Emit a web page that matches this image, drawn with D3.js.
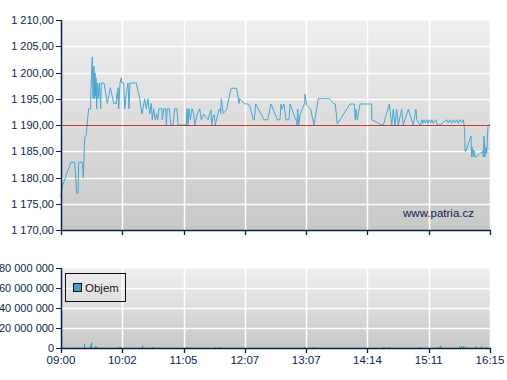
<!DOCTYPE html>
<html><head><meta charset="utf-8">
<script src="https://cdn.jsdelivr.net/npm/d3@7"></script>
<style>
html,body{margin:0;padding:0;background:#fff;}
svg{display:block;font-family:"Liberation Sans",Arial,sans-serif;}
</style></head>
<body>
<svg id="c" width="507" height="380"></svg>
<script>
// ---- data ----
const timeLabels = ["09:00","10:02","11:05","12:07","13:07","14:14","15:11","16:15"];
const priceTicks = [1170,1175,1180,1185,1190,1195,1200,1205,1210];
const volumeTicks = [0,20000000,40000000,60000000,80000000];
const referencePrice = 1190;
// session position (0..429) and price
const pricePos = [0,1,4.3,6.3,8.7,9.7,13.7,15.7,17,17.7,21.3,22.3,23.3,23.7,25.3,26,27.7,29.7,29.7,31,31.3,32,33,33.7,34,34.7,35,35.7,36.3,37.3,38.3,39.7,40.3,43,44.7,46.3,49.3,52.7,55.3,56.3,56,57,57.7,59,60.3,61,62.7,63.7,65.3,67,68,69,75.3,78.7,81,83.7,85.3,87,88.7,90.3,91.3,92.7,94.3,95.7,96.7,98,101,101.2,103,104.7,105.3,106.3,108.3,109.7,112,113.7,116,117,125.3,126,127,128,129.3,131,132.7,133.7,136.3,138.7,140.3,142.7,147,
 150,150.7,152.3,153.3,154.3,158,159.3,159.7,160.3,162.3,165.7,170,175.7,177.3,178,178.7,184,187.3,189,189.7,192.3,193.3,194.7,203,206.7,210,216.3,219,220,221,223,225,228,229,234.7,235.7,236,236.7,237.7,239,241.3,243.3,243.7,244,245.7,249.7,253,257.3,268.3,273.3,274.3,276.3,289,
 291.7,293.3,294.3,295,296.3,299,310.7,310.8,321.3,322.3,328.3,330.7,332.3,334,335.7,337.3,340.7,342.3,347.3,352.3,355,355.7,359,359.7,360.7,361.7,363,364.3,365.7,367,368.3,369.7,371,372.3,373.7,375,376.3,379,385.7,387.3,389,390.7,392.3,394,395.7,397.3,399,400.7,402.3,403.7,404,404.7,410,410.7,411.3,412.3,413,414,415,421.7,422.3,423,424,425,425.7,427,428.7,429];
const priceVal = [1176.4,1178.2,1179.9,1181.1,1182.1,1182.9,1182.9,1177.0,1177.0,1182.9,1182.9,1179.9,1185.3,1187.5,1188.2,1190,1193.1,1193.1,1195,1202,1203,1195,1201.2,1195,1199.9,1195.5,1199,1193.1,1198,1195,1198,1193.1,1198,1198,1196.1,1194.1,1197.1,1194.1,1194.1,1196.1,1195,1197.1,1193.1,1198,1199,1198,1198,1193.1,1196.1,1198,1193.1,1198,1198,1195,1192.1,1195,1193.1,1195,1192.1,1194.1,1191,1193.1,1191,1192.1,1191,1193.1,1193.1,1191,1193.1,1193.1,1190,1193.1,1193.1,1190,1190,1193.1,1193.1,1190,1190,1193.1,1190,1193.1,1191,1193.1,1192.1,1190,1192.1,1193.1,1191,1192.1,1191,
 1192.9,1190,1191.9,1191.9,1190,1193,1193,1192.2,1195,1192.2,1193,1197,1197,1195,1194.1,1195,1194,1194,1193.5,1192.9,1191,1191,1194,1191,1191,1194,1191,1191,1194,1193,1194,1191,1191,1194,1191,1191,1190,1193,1190,1192,1193,1194,1194,1195.9,1193.8,1193,1190,1195,1195,1194,1194,1190.2,1194,1194,
 1194,1191,1193,1191,1194,1194,1191,1190,1190,1194,1190,1193,1190,1193,1190,1193,1190,1193,1190,1193,1191,1190,1190,1191,1190.3,1191,1190.4,1191,1190.3,1191,1190.4,1191,1190.3,1190.8,1191,1190,1190,1191,1190.4,1191,1190.3,1191,1190.4,1191,1190.3,1191,1190.5,1191,1189,1185,1185,1187.9,1183.9,1185.8,1183.9,1185.2,1183.9,1183.9,1185,1183.9,1187.9,1183.9,1185.8,1184.6,1189.7,1190.2];
const volumePos = [0,23.3,29.3,30.3,34,35,56.7,59,81,90.7,125,154,159,243,252,322,328,359,377,378.5,379,398,400,402,404,414,420,425];
const volumeVal = [36600000,4300000,3300000,5700000,1700000,1500000,1200000,1000000,2700000,1000000,1000000,1000000,1000000,1000000,1000000,1000000,1000000,1200000,1500000,2400000,1500000,2000000,2000000,2000000,1500000,1800000,2000000,1000000];

// ---- layout ----
const svg = d3.select("#c");
const navy = "#0b1f4f";
const left = 61, right = 490;
const x = d3.scaleLinear().domain([0,429]).range([left,right]);
const yP = d3.scaleLinear().domain([1170,1210]).range([230,20]);
const yV = d3.scaleLinear().domain([0,80000000]).range([348,268]);
const tickPositions = timeLabels.map((d,i)=> i*429/(timeLabels.length-1));

const defs = svg.append("defs");
const g1 = defs.append("linearGradient").attr("id","bg").attr("x1",0).attr("x2",0).attr("y1",0).attr("y2",1);
g1.append("stop").attr("offset","0%").attr("stop-color","#efefef");
g1.append("stop").attr("offset","100%").attr("stop-color","#c8c8c8");

function panel(y, ticks){
  const [y0,y1] = [y.range()[1], y.range()[0]];
  const g = svg.append("g");
  g.append("rect").attr("x",left).attr("y",y0).attr("width",right-left+1).attr("height",y1-y0).attr("fill","url(#bg)");
  g.append("line").attr("x1",left).attr("x2",right+1).attr("y1",y0+0.5).attr("y2",y0+0.5).attr("stroke","#f6f6f6");
  g.selectAll(".hg").data(ticks.slice(1,-1)).join("line")
    .attr("x1",left).attr("x2",right).attr("y1",d=>Math.round(y(d))+0.5).attr("y2",d=>Math.round(y(d))+0.5)
    .attr("stroke","#fff").attr("stroke-width",1.5);
  g.selectAll(".vg").data(tickPositions.slice(1)).join("line")
    .attr("x1",d=>Math.round(x(d))+0.5).attr("x2",d=>Math.round(x(d))+0.5).attr("y1",y0).attr("y2",y1)
    .attr("stroke","#fff").attr("stroke-width",1.5);
  return g;
}

panel(yP, priceTicks);
panel(yV, volumeTicks);

// price line
const line = d3.line().x((d,i)=>x(pricePos[i])).y(d=>yP(d));
svg.append("path").datum(priceVal).attr("d",line).attr("fill","none")
  .attr("stroke","#45a7d4").attr("stroke-width",1).attr("stroke-linejoin","round");
// reference line
svg.append("line").attr("x1",left).attr("x2",right).attr("y1",Math.round(yP(referencePrice))+0.5).attr("y2",Math.round(yP(referencePrice))+0.5)
  .attr("stroke","#c0302a").attr("stroke-width",1.2);

// volume bars
svg.selectAll(".vb").data(volumeVal).join("rect")
  .attr("x",(d,i)=>Math.round(x(volumePos[i]))).attr("width",1.2)
  .attr("y",d=>yV(d)).attr("height",d=>yV(0)-yV(d)).attr("fill","#3fa0d0");

// axes
function frame(y, ticks, fmt, withLabelsX){
  const [y0,y1] = [y.range()[1], y.range()[0]];
  svg.append("line").attr("x1",left+0.5).attr("x2",left+0.5).attr("y1",y0).attr("y2",y1+1).attr("stroke",navy).attr("stroke-width",1.5);
  svg.append("line").attr("x1",left).attr("x2",right+1).attr("y1",y1+0.5).attr("y2",y1+0.5).attr("stroke",navy).attr("stroke-width",1.5);
  svg.selectAll(null).data(ticks).join("line")
    .attr("x1",left-5).attr("x2",left).attr("y1",d=>Math.round(y(d))+0.5).attr("y2",d=>Math.round(y(d))+0.5).attr("stroke",navy);
  svg.selectAll(null).data(ticks).join("text")
    .attr("x",54).attr("y",d=>y(d)+4).attr("text-anchor","end").attr("fill",navy).attr("font-size",11)
    .text(fmt);
  svg.selectAll(null).data(tickPositions).join("line")
    .attr("x1",d=>Math.round(x(d))+0.5).attr("x2",d=>Math.round(x(d))+0.5).attr("y1",y1).attr("y2",y1+5).attr("stroke",navy).attr("stroke-width",1.3);
  if(withLabelsX){
    svg.selectAll(null).data(tickPositions).join("text")
      .attr("x",d=>x(d)).attr("y",y1+16).attr("text-anchor","middle").attr("fill",navy).attr("font-size",11.5)
      .text((d,i)=>timeLabels[i]);
  }
}
const fmtPrice = d => { const s = d3.format(".2f")(d).replace(".",","); const [a,b]=s.split(","); return a.replace(/\B(?=(\d{3})+(?!\d))/g," ")+","+b; };
const fmtVol = d => String(d).replace(/\B(?=(\d{3})+(?!\d))/g," ");
frame(yP, priceTicks, fmtPrice, false);
frame(yV, volumeTicks, fmtVol, true);

svg.append("text").attr("x",474).attr("y",217).attr("text-anchor","end").attr("fill",navy).attr("font-size",11.5).text("www.patria.cz");

// legend
const lg = svg.append("g");
lg.append("rect").attr("x",65.5).attr("y",273.5).attr("width",60).attr("height",28).attr("fill","none").attr("stroke","#111");
lg.append("rect").attr("x",73.5).attr("y",283.5).attr("width",8).attr("height",8).attr("fill","#3fa0d0").attr("stroke","#111");
lg.append("text").attr("x",85).attr("y",292).attr("fill","#111").attr("font-size",11.5).text("Objem");
</script>
</body></html>
